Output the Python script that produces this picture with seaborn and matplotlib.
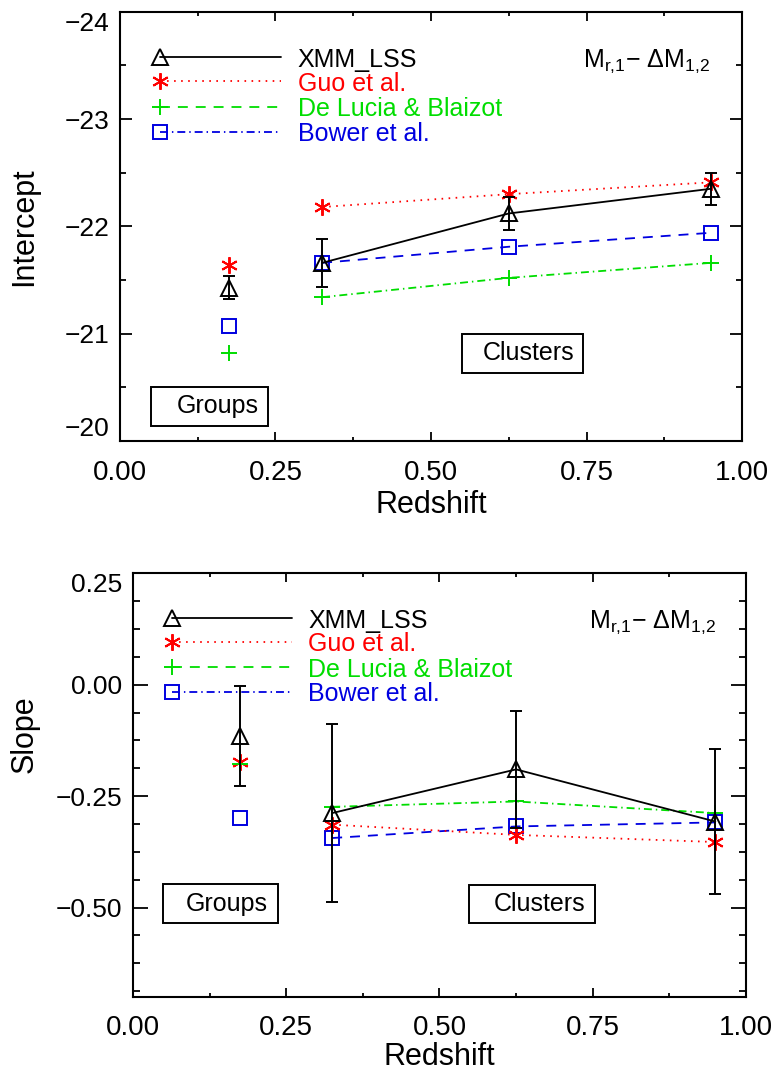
import matplotlib
matplotlib.use("Agg")
import matplotlib.pyplot as plt
import seaborn as sns
from matplotlib.patches import Rectangle
from matplotlib.ticker import MultipleLocator, FixedLocator

# ---------------- data ----------------
z_group = [0.175]
z_clusters = [0.325, 0.625, 0.95]

series_names = ["XMM_LSS", "Guo et al.", "De Lucia & Blaizot", "Bower et al."]

# Intercept panel
xmm_int_group = [-21.43]
xmm_int_group_err = [0.11]
xmm_int_cl = [-21.66, -22.12, -22.35]
xmm_int_cl_err = [0.225, 0.15, 0.15]
guo_int_group = [-21.64]
guo_int_cl = [-22.18, -22.30, -22.41]
delucia_int_group = [-20.82]
delucia_int_cl = [-21.34, -21.52, -21.66]
bower_int_group = [-21.07]
bower_int_cl = [-21.66, -21.81, -21.94]

# Slope panel
xmm_slope_group = [-0.115]
xmm_slope_group_err = [0.113]
xmm_slope_cl = [-0.288, -0.190, -0.307]
xmm_slope_cl_err = [0.200, 0.131, 0.162]
guo_slope_group = [-0.173]
guo_slope_cl = [-0.314, -0.337, -0.353]
delucia_slope_group = [-0.177]
delucia_slope_cl = [-0.274, -0.262, -0.288]
bower_slope_group = [-0.300]
bower_slope_cl = [-0.344, -0.318, -0.309]

x_ticks = [0.0, 0.25, 0.50, 0.75, 1.00]
x_ticklabels = ["0.00", "0.25", "0.50", "0.75", "1.00"]
int_ticks = [-24, -23, -22, -21, -20]
int_ticklabels = ["\u221224", "\u221223", "\u221222", "\u221221", "\u221220"]
slope_ticks = [0.25, 0.0, -0.25, -0.50]
slope_ticklabels = ["0.25", "0.00", "\u22120.25", "\u22120.50"]

# ---------------- style ----------------
sns.set_theme(style="ticks")
plt.rcParams["font.family"] = ["Liberation Sans", "DejaVu Sans"]
plt.rcParams["mathtext.fontset"] = "custom"
plt.rcParams["mathtext.rm"] = "Liberation Sans"
plt.rcParams["mathtext.it"] = "Liberation Sans"
plt.rcParams["mathtext.default"] = "rm"
plt.rcParams["axes.unicode_minus"] = True
for key in ("text.color", "axes.labelcolor", "xtick.color", "ytick.color",
            "xtick.labelcolor", "ytick.labelcolor", "axes.edgecolor"):
    plt.rcParams[key] = "black"

BLACK = "#000000"
RED = "#ff0000"
GREEN = "#00dd00"
BLUE = "#0000e0"
STAR = (6, 2, 0)

LW = 1.3
dotted = (0, (0.9, 3.0))
dashed = (0, (5.5, 4.4))
dashdot = (0, (4.4, 2.2, 0.8, 2.2))
leg_dashed = (0, (5.5, 4.4))
leg_dashdot = (0, (4.4, 2.2, 0.8, 2.2))

MSIZE = {"^": 11, "s": 9.5, STAR: 12, "+": 11}

fig = plt.figure(figsize=(7.76, 10.71), dpi=100)
ax1 = fig.add_axes([0.1546, 0.5882, 0.9562 - 0.1546, 0.9891 - 0.5882])
ax2 = fig.add_axes([0.1714, 0.0694, 0.9613 - 0.1714, 0.4647 - 0.0694])


def draw_series(ax, group_vals, cl_vals, color, ls, marker):
    ms = MSIZE[marker]
    sns.lineplot(x=z_clusters, y=cl_vals, ax=ax, color=color, linestyle=ls,
                 linewidth=LW, marker=marker, markersize=ms,
                 markerfacecolor="none", markeredgecolor=color,
                 markeredgewidth=1.4, sort=False, estimator=None,
                 errorbar=None, legend=False)
    sns.lineplot(x=z_group, y=group_vals, ax=ax, color=color, linestyle="none",
                 marker=marker, markersize=ms, markerfacecolor="none",
                 markeredgecolor=color, markeredgewidth=1.4, sort=False,
                 estimator=None, errorbar=None, legend=False)


def draw_panel(ax, xmm_g, xmm_ge, xmm_c, xmm_ce, guo_g, guo_c, dl_g, dl_c, bw_g, bw_c):
    ax.errorbar(z_group + z_clusters, xmm_g + xmm_c, yerr=xmm_ge + xmm_ce,
                fmt="none", ecolor=BLACK, elinewidth=1.4, capsize=4, capthick=1.4, zorder=3)
    draw_series(ax, bw_g, bw_c, BLUE, dashed, "s")
    draw_series(ax, guo_g, guo_c, RED, dotted, STAR)
    draw_series(ax, dl_g, dl_c, GREEN, dashdot, "+")
    draw_series(ax, xmm_g, xmm_c, BLACK, "-", "^")


draw_panel(ax1, xmm_int_group, xmm_int_group_err, xmm_int_cl, xmm_int_cl_err,
           guo_int_group, guo_int_cl, delucia_int_group, delucia_int_cl,
           bower_int_group, bower_int_cl)
draw_panel(ax2, xmm_slope_group, xmm_slope_group_err, xmm_slope_cl, xmm_slope_cl_err,
           guo_slope_group, guo_slope_cl, delucia_slope_group, delucia_slope_cl,
           bower_slope_group, bower_slope_cl)

# legends (drawn manually, as in the original)
leg_rows = [0.894, 0.838, 0.778, 0.720]
leg_styles = [(BLACK, "-", "^"), (RED, dotted, STAR), (GREEN, leg_dashed, "+"), (BLUE, leg_dashdot, "s")]
for ax in (ax1, ax2):
    for name, yrow, (col, ls, mk) in zip(series_names, leg_rows, leg_styles):
        ax.plot([0.064, 0.259], [yrow, yrow], transform=ax.transAxes, color=col,
                linestyle=ls, linewidth=LW, clip_on=False)
        ax.plot([0.064], [yrow], transform=ax.transAxes, color=col, linestyle="none",
                marker=mk, markersize=MSIZE[mk], markerfacecolor="none", markeredgecolor=col,
                markeredgewidth=1.4)
        ax.text(0.286, yrow, name, transform=ax.transAxes, color=col, fontsize=18,
                ha="left", va="center_baseline")
    ax.text(0.744, leg_rows[0], "M$_{r{,}1}$\u2212 \u0394M$_{1{,}2}$", transform=ax.transAxes,
            color=BLACK, fontsize=18, ha="left", va="center_baseline")


def label_box(ax, x0, x1, y0, y1, text, tx, ty):
    ax.add_patch(Rectangle((x0, y0), x1 - x0, y1 - y0, transform=ax.transAxes,
                           fill=False, edgecolor=BLACK, linewidth=1.4))
    ax.text(tx, ty, text, transform=ax.transAxes, fontsize=18, ha="right", va="center",
            color=BLACK)


label_box(ax1, 0.0494, 0.2385, 0.0356, 0.1265, "Groups", 0.2224, 0.081)
label_box(ax1, 0.5498, 0.7444, 0.1584, 0.2492, "Clusters", 0.730, 0.2045)
label_box(ax2, 0.0485, 0.2370, 0.1734, 0.2660, "Groups", 0.2202, 0.220)
label_box(ax2, 0.5486, 0.7537, 0.1734, 0.2638, "Clusters", 0.7385, 0.2183)

# axes styling
for ax in (ax1, ax2):
    ax.set_xlim(0, 1)
    ax.xaxis.set_major_locator(FixedLocator(x_ticks))
    ax.set_xticklabels(x_ticklabels)
    ax.xaxis.set_minor_locator(MultipleLocator(0.125))
    for s in ax.spines.values():
        s.set_linewidth(1.5)
        s.set_color(BLACK)
        s.set_visible(True)
    ax.tick_params(axis="both", which="both", direction="in", top=True, right=True,
                   color=BLACK, labelcolor=BLACK, width=1.3)
    ax.tick_params(axis="x", which="major", length=6.2, pad=13.5, labelsize=20)
    ax.tick_params(axis="x", which="minor", length=3.2)
    ax.set_facecolor("white")
    ax.grid(False)

ax1.set_ylim(-20, -24)
ax1.yaxis.set_major_locator(FixedLocator(int_ticks))
ax1.set_yticklabels(int_ticklabels)
ax1.yaxis.set_minor_locator(MultipleLocator(0.5))
ax1.tick_params(axis="y", which="major", length=8.5, pad=7.5, labelsize=19)
ax1.tick_params(axis="y", which="minor", length=4.5)

ax2.set_ylim(-0.70, 0.25)
ax2.yaxis.set_major_locator(FixedLocator(slope_ticks))
ax2.set_yticklabels(slope_ticklabels)
ax2.yaxis.set_minor_locator(MultipleLocator(0.0625))
ax2.tick_params(axis="y", which="major", length=10.5, pad=8, labelsize=19)
ax2.tick_params(axis="y", which="minor", length=5)

for lab in ax1.get_yticklabels():
    if lab.get_text() == "\u221224":
        lab.set_va("top")
    elif lab.get_text() == "\u221220":
        lab.set_va("bottom")
for lab in ax2.get_yticklabels():
    if lab.get_text() == "0.25":
        lab.set_va("top")

ax1.set_xlabel("Redshift", fontsize=22, color=BLACK)
ax1.set_ylabel("Intercept", fontsize=22, color=BLACK)
ax1.xaxis.set_label_coords(0.5, -0.115)
ax1.yaxis.set_label_coords(-0.13, 0.5)
ax2.set_xlabel("Redshift", fontsize=22, color=BLACK)
ax2.set_ylabel("Slope", fontsize=22, color=BLACK)
ax2.xaxis.set_label_coords(0.5, -0.108)
ax2.yaxis.set_label_coords(-0.153, 0.62)

fig.savefig("out.png", dpi=100, facecolor="white")
